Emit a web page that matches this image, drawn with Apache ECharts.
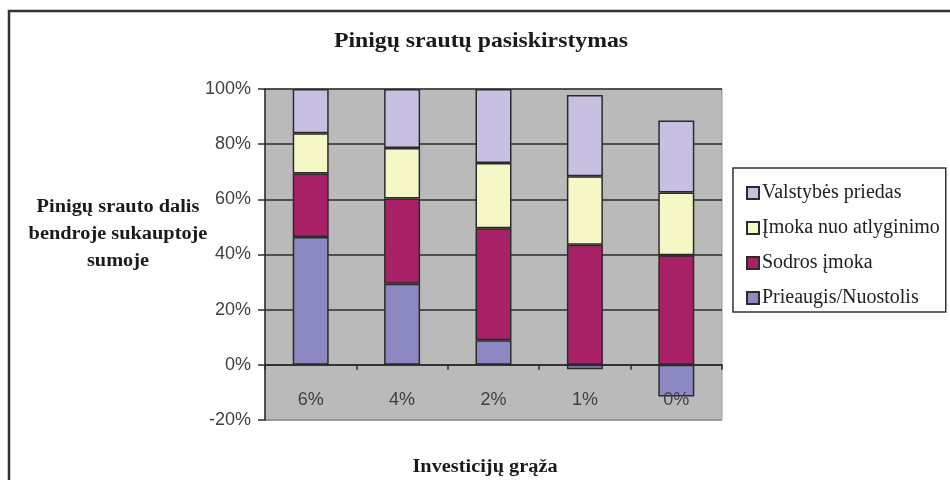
<!DOCTYPE html>
<html>
<head>
<meta charset="utf-8">
<script src="https://cdn.jsdelivr.net/npm/echarts@6/dist/echarts.min.js"></script>
<style>
  html, body { margin: 0; padding: 0; background: #fff; }
  #chart { width: 950px; height: 480px; }
</style>
</head>
<body>
<div id="chart"></div>
<script>
// Investment return scenarios (x axis)
const categories = ['6%', '4%', '2%', '1%', '0%'];

// Share of each cash-flow source in the accumulated total, percent
const prieaugis  = [46.3, 29.4, 8.9, -1.6, -11.5];   // Prieaugis/Nuostolis
const sodros     = [23.1, 30.9, 40.6, 43.5, 39.7];   // Sodros įmoka
const imoka      = [14.6, 18.3, 23.7, 24.9, 22.8];   // Įmoka nuo atlyginimo
const valstybes  = [16.0, 21.4, 26.8, 29.4, 26.1];   // Valstybės priedas

const yTicks = { min: -20, max: 100, step: 20 };

const serif = '"Liberation Serif", "Times New Roman", serif';
const sans = '"Liberation Sans", Arial, sans-serif';
const edge = '#2b2b2b';

function barSeries(name, data, color) {
  return {
    name: name,
    type: 'bar',
    stack: 'total',
    data: data,
    barWidth: 36,
    itemStyle: { color: color, borderColor: edge, borderWidth: 1.5 }
  };
}

const chart = echarts.init(document.getElementById('chart'), null, { renderer: 'canvas' });

chart.setOption({
  backgroundColor: '#ffffff',
  animation: false,
  legend: {
    orient: 'vertical',
    left: 733,
    top: 168,
    data: ['Valstybės priedas', 'Įmoka nuo atlyginimo', 'Sodros įmoka', 'Prieaugis/Nuostolis'],
    itemWidth: 12,
    itemHeight: 12,
    itemGap: 15,
    padding: [15, 6, 4, 13],
    backgroundColor: '#ffffff',
    borderColor: '#333',
    borderWidth: 1.5,
    borderRadius: 0,
    icon: 'rect',
    textStyle: { fontFamily: serif, fontSize: 20, color: '#222', padding: [0, 0, 0, -2] }
  },
  grid: {
    left: 265,
    right: 228,
    top: 89,
    bottom: 60,
    show: true,
    backgroundColor: '#bababa',
    borderColor: '#999',
    borderWidth: 1
  },
  xAxis: {
    type: 'category',
    data: categories,
    z: 5,
    axisLine: { onZero: true, lineStyle: { color: '#2b2b2b', width: 1.5 } },
    axisTick: { show: true, length: 5, alignWithLabel: false, lineStyle: { color: '#2b2b2b', width: 1.5 } },
    axisLabel: { margin: -29, fontFamily: sans, fontSize: 18, color: '#404040' },
    splitLine: { show: false }
  },
  yAxis: {
    type: 'value',
    min: yTicks.min,
    max: yTicks.max,
    interval: yTicks.step,
    axisLine: { show: true, lineStyle: { color: '#2b2b2b', width: 1.5 } },
    axisTick: { show: true, length: 7, lineStyle: { color: '#2b2b2b', width: 1.5 } },
    axisLabel: {
      margin: 14,
      fontFamily: sans,
      fontSize: 18,
      color: '#404040',
      formatter: function (v) { return v + '%'; }
    },
    splitLine: {
      show: true,
      lineStyle: { color: ['#8f8f8f', '#2b2b2b', '#2b2b2b', '#2b2b2b', '#2b2b2b', '#2b2b2b', '#2b2b2b'], width: 1.5 }
    }
  },
  series: [
    barSeries('Prieaugis/Nuostolis', prieaugis, '#8b88c2'),
    barSeries('Sodros įmoka', sodros, '#a82166'),
    barSeries('Įmoka nuo atlyginimo', imoka, '#f5f7c6'),
    barSeries('Valstybės priedas', valstybes, '#c8c0e0')
  ],
  graphic: [
    {
      type: 'rect',
      silent: true,
      z: -1,
      shape: { x: 9, y: 11, width: 980, height: 520 },
      style: { fill: 'none', stroke: '#333', lineWidth: 2.5 }
    },
    {
      // chart title
      type: 'text',
      x: 481,
      y: 42,
      scaleX: 1.13,
      style: {
        text: 'Pinigų srautų pasiskirstymas',
        align: 'center',
        verticalAlign: 'middle',
        font: 'bold 21px ' + serif,
        fill: '#1a1a1a'
      }
    },
    {
      // value axis title
      type: 'text',
      x: 118,
      y: 194,
      scaleX: 1.13,
      style: {
        text: 'Pinigų srauto dalis\nbendroje sukauptoje\nsumoje',
        align: 'center',
        verticalAlign: 'top',
        lineHeight: 27,
        font: 'bold 18px ' + serif,
        fill: '#1a1a1a'
      }
    },
    {
      // category axis title
      type: 'text',
      x: 485,
      y: 467,
      scaleX: 1.13,
      style: {
        text: 'Investicijų grąža',
        align: 'center',
        verticalAlign: 'middle',
        font: 'bold 18px ' + serif,
        fill: '#1a1a1a'
      }
    }
  ]
});
</script>
</body>
</html>
